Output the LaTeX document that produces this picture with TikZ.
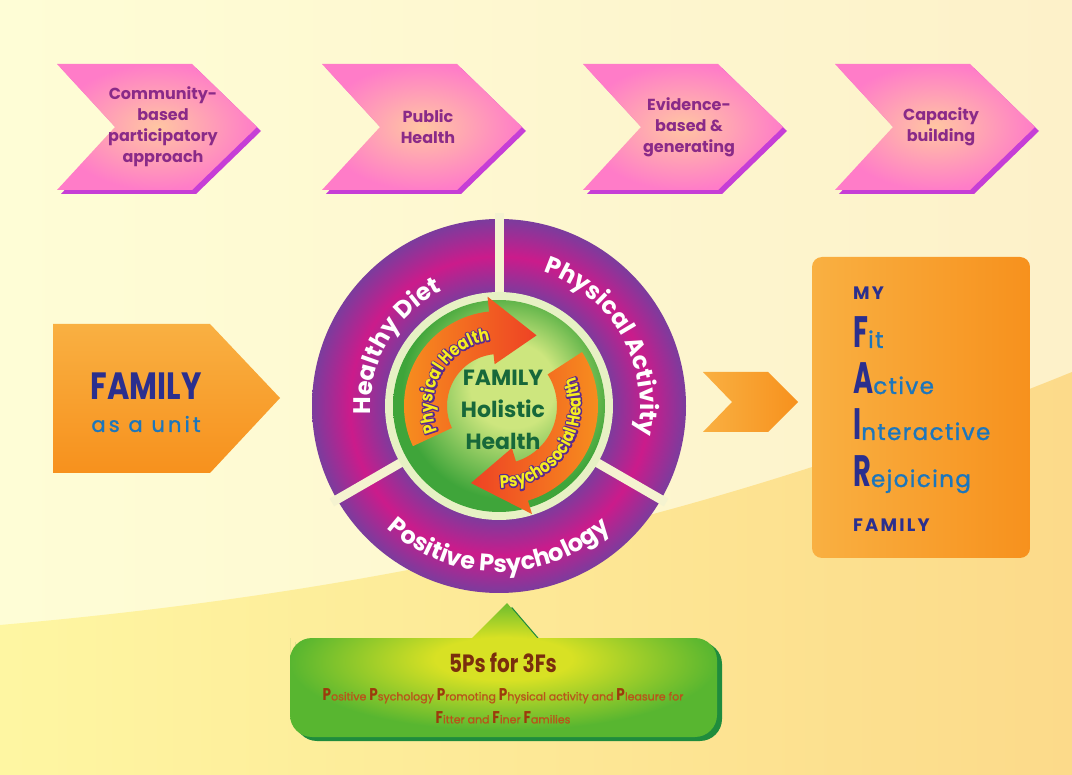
\documentclass[tikz,border=0pt]{standalone}
\usepackage{fontspec}
\setmainfont{Poppins}
\newfontfamily\popc[FakeStretch=0.8]{Poppins}
\newfontfamily\popcc[FakeStretch=0.62]{Poppins}
\newfontfamily\popn[FakeStretch=0.84]{Poppins}
\newfontfamily\popm[FakeBold=1.2]{Poppins}
\usetikzlibrary{decorations.text}
\definecolor{bgA}{HTML}{FEFDD6}
\definecolor{bgB}{HTML}{FDF1C9}
\definecolor{bandA}{HTML}{FEF6A2}
\definecolor{bandB}{HTML}{FCDA8A}
\definecolor{pinkE}{HTML}{FF7CC8}
\definecolor{pinkC}{HTML}{FFC6A2}
\definecolor{pinkS}{HTML}{C63ED6}
\definecolor{chevtxt}{HTML}{8A2A88}
\definecolor{orA}{HTML}{F9B042}
\definecolor{orB}{HTML}{F7911D}
\definecolor{dblue}{HTML}{2B2F8E}
\definecolor{lblue}{HTML}{1C76BC}
\definecolor{ringP}{HTML}{7B3C9D}
\definecolor{ringM}{HTML}{CB1B8B}
\definecolor{gapc}{HTML}{F5F3D0}
\definecolor{rimc}{HTML}{E7F1C4}
\definecolor{ballL}{HTML}{CDE67E}
\definecolor{ballG}{HTML}{3FA53A}
\definecolor{arrR}{HTML}{EE4224}
\definecolor{arrO}{HTML}{F7901E}
\definecolor{arrY}{HTML}{F6EE1E}
\definecolor{arrPu}{HTML}{5A2A8E}
\definecolor{cgreen}{HTML}{17683A}
\definecolor{gbY}{HTML}{D8E124}
\definecolor{gbG}{HTML}{58B630}
\definecolor{gbS}{HTML}{1F8C3D}
\definecolor{brownA}{HTML}{7A2E0D}
\definecolor{brownC}{HTML}{9C3A0C}
\definecolor{brownB}{HTML}{B9541A}
\pgfdeclareradialshading{ringsh}{\pgfpointorigin}{color(0bp)=(ringP); color(15bp)=(ringP); color(20bp)=(ringM); color(25bp)=(ringP); color(50bp)=(ringP)}
\pgfdeclareradialshading{ballsh}{\pgfpoint{4bp}{6bp}}{color(0bp)=(ballL); color(10bp)=(ballL); color(25bp)=(ballG); color(50bp)=(ballG)}
\pgfdeclareradialshading{gbsh}{\pgfpoint{0bp}{5bp}}{color(0bp)=(gbY); color(8bp)=(gbY); color(25bp)=(gbG); color(50bp)=(gbG)}
\newcommand\ringfont{\fontsize{24}{24}\selectfont\bfseries\color{white}}
% purple stroked glyphs underneath, yellow filled glyphs on top
\newcommand\arrowback{\popn\bfseries\fontsize{18}{18}\selectfont\color{arrPu}\special{pdf:literal direct 2 Tr 2.6 w 1 j}}
\newcommand\arrowfront{\popn\bfseries\fontsize{18}{18}\selectfont\color{arrY}\special{pdf:literal direct 0 Tr 1 w}}
\newcommand\resetTr{\special{pdf:literal direct 0 Tr 1 w}}
\newcommand\bigL[1]{{\popcc\bfseries\fontsize{44}{44}\selectfont\color{dblue}#1}}
\newcommand\smallL[1]{{\popm\fontsize{23}{23}\selectfont\addfontfeature{LetterSpace=6}\color{lblue}#1}}
\newcommand\capP[1]{{\popc\bfseries\fontsize{17}{17}\selectfont\color{brownC}#1}}
\tikzset{
  chevbody/.style={inner color=pinkC, outer color=pinkE},
  chevtext/.style={text=chevtxt, font=\fontsize{16}{21}\selectfont\bfseries, align=center},
  orshade/.style={left color=orA, right color=orB},
  fairline/.style={anchor=base west, inner sep=0pt},
}
\begin{document}
\begin{tikzpicture}[x=1pt,y=1pt]
\useasboundingbox (0,0) rectangle (1072,-775);
% background
\shade[left color=bgA, right color=bgB] (0,0) rectangle (1072,-775);
\shade[left color=bandA, right color=bandB] (0,-625) .. controls (400,-590) and (720,-515) .. (1072,-372) -- (1072,-775) -- (0,-775) -- cycle;
% top chevrons
\foreach \x/\n/\t in {57/c1/{Community-\\based\\participatory\\approach},322/c2/{Public\\Health},583/c3/{Evidence-\\based \&\\generating},835/c4/{Capacity\\building}} {
  \fill[pinkS] (\x+4,-68) -- ++(135,0) -- ++(65,-63) -- ++(-65,-63) -- ++(-135,0) -- ++(58,63) -- cycle;
  \shade[chevbody] (\x,-64) -- ++(135,0) -- ++(65,-63) -- ++(-65,-63) -- ++(-135,0) -- ++(58,63) -- cycle;
  \node[chevtext] (\n) at (\x+106,-127) {\t};
}
% FAMILY as a unit
\shade[top color=orA, bottom color=orB] (53,-324) -- (210,-324) -- (280,-398) -- (210,-473) -- (53,-473) -- cycle;
\node[text=dblue, font=\popc\bfseries\fontsize{38}{38}\selectfont] (famU) at (146,-386) {FAMILY};
\node[text=lblue, font=\popm\fontsize{21}{21}\selectfont\addfontfeature{LetterSpace=15}] (asunit) at (146,-424) {as a unit};
% ring
\coordinate (C) at (499,-406);
\shade[shading=ringsh] (C) circle (187);
\foreach \a in {90,210,330} \draw[gapc, line width=9pt] ([shift={(\a:105)}]C) -- ([shift={(\a:193)}]C);
\fill[rimc] (C) circle (114);
\shade[shading=ballsh] (C) circle (106);
\path[decorate, decoration={text along path, text align=center, text={|\ringfont|Healthy Diet}}] ([shift={(210:128)}]C) arc[start angle=210, end angle=90, radius=128];
\path[decorate, decoration={text along path, text align=center, text={|\ringfont|Physical Activity}}] ([shift={(90:141)}]C) arc[start angle=90, end angle=-30, radius=141];
\path[decorate, decoration={text along path, text align=center, text={|\ringfont|Positive Psychology}}] ([shift={(210:166)}]C) arc[start angle=210, end angle=330, radius=166];
% circular arrows
\begin{scope}[shift={(C)}]
\shade[left color=arrO, right color=arrR] (205:95) arc[start angle=205, end angle=96, radius=95] -- (96:110) -- (62:80) -- (96:42) -- (96:52) arc[start angle=96, end angle=205, radius=52] -- cycle;
\shade[left color=arrR, right color=arrO] (33:99) arc[start angle=33, end angle=-73, radius=99] -- (-73:113) -- (-110:82) -- (-73:44) -- (-73:58) arc[start angle=-73, end angle=33, radius=58] -- cycle;
\path[decorate, decoration={text along path, text align=center, text={|\arrowback|Physical Health}}] (210:66) arc[start angle=210, end angle=90, radius=66];
\path[decorate, decoration={text along path, text align=center, text={|\arrowfront|Physical Health}}] (210:66) arc[start angle=210, end angle=90, radius=66];
\path[decorate, decoration={text along path, text align=center, text={|\arrowback|Psychosocial Health}}] (266:82) arc[start angle=266, end angle=386, radius=82];
\path[decorate, decoration={text along path, text align=center, text={|\arrowfront|Psychosocial Health}}] (266:82) arc[start angle=266, end angle=386, radius=82];
\end{scope}
\node[text=cgreen, align=center, font=\resetTr\fontsize{22}{32}\selectfont\bfseries] (core) at (503,-410) {FAMILY\\Holistic\\Health};
% right chevron
\shade[orshade] (703,-372) -- (768,-372) -- (798,-402) -- (768,-432) -- (703,-432) -- (732,-402) -- cycle;
% FAIR box
\shade[orshade, rounded corners=10pt] (812,-257) rectangle (1030,-558);
\node[fairline, text=dblue, font=\fontsize{18}{18}\selectfont\bfseries\addfontfeature{LetterSpace=12}] (my) at (853,-300) {MY};
\node[fairline] (fit) at (853,-348) {\bigL{F}\smallL{it}};
\node[fairline] (active) at (853,-394) {\bigL{A}\smallL{ctive}};
\node[fairline] (inter) at (853,-440) {\bigL{I}\smallL{nteractive}};
\node[fairline] (rejoice) at (853,-487) {\bigL{R}\smallL{ejoicing}};
\node[fairline, text=dblue, font=\fontsize{18}{18}\selectfont\bfseries\addfontfeature{LetterSpace=12}] (famB) at (853,-532) {FAMILY};
% green callout
\begin{scope}[shift={(5,-4)}]
\fill[gbS] (290,-660) [rounded corners=22pt] -- (290,-638) -- (717,-638) -- (717,-737) -- (290,-737) -- cycle;
\fill[gbS] (465,-645) -- (507,-603) -- (543,-645) -- cycle;
\end{scope}
\shade[shading=gbsh] (290,-660) [rounded corners=22pt] -- (290,-638) -- (717,-638) -- (717,-737) -- (290,-737) -- cycle (465,-645) [sharp corners] -- (507,-603) -- (543,-645) -- cycle;
\node[text=brownA, font=\popc\bfseries\fontsize{25}{25}\selectfont] (fivep) at (503,-663) {5Ps for 3Fs};
\node[align=center, text=brownB, font=\popm\fontsize{11}{23}\selectfont] (fivepdef) at (503,-706) {\capP{P}ositive \capP{P}sychology \capP{P}romoting \capP{P}hysical activity and \capP{P}leasure for\\\capP{F}itter and \capP{F}iner \capP{F}amilies};
\end{tikzpicture}
\end{document}
